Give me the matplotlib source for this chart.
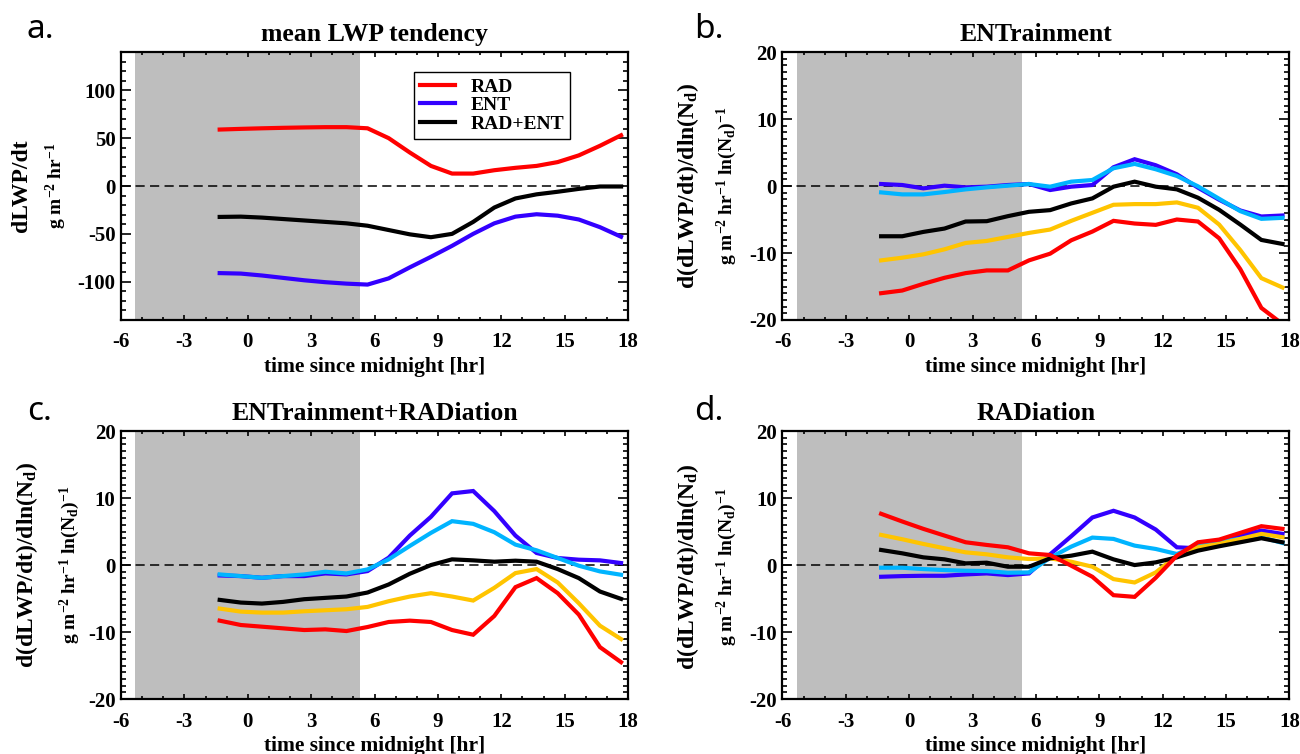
import matplotlib.pyplot as plt
from matplotlib.ticker import MultipleLocator

plt.rcParams['font.family'] = 'Liberation Serif'
plt.rcParams['font.weight'] = 'bold'
plt.rcParams['axes.labelweight'] = 'bold'
plt.rcParams['axes.unicode_minus'] = False
plt.rcParams['mathtext.fontset'] = 'custom'
plt.rcParams['mathtext.rm'] = 'Liberation Serif:bold'
plt.rcParams['mathtext.it'] = 'Liberation Serif:bold'
plt.rcParams['mathtext.bf'] = 'Liberation Serif:bold'

# hours since midnight (model output times)
times = [-1.33, -0.33, 0.67, 1.67, 2.67, 3.67, 4.67, 5.67, 6.67, 7.67,
         8.67, 9.67, 10.67, 11.67, 12.67, 13.67, 14.67, 15.67, 16.67, 17.67]
night = [-5.33, 5.33]

# panel a: mean LWP tendency
rad = [59, 59.7, 60.3, 60.8, 61.2, 61.5, 61.5, 60.3, 50, 35,
       21, 13, 13, 16.5, 19, 21, 25, 32, 42, 53]
ent = [-91, -91.5, -93.5, -96, -98.5, -100.5, -102, -103, -96.5, -85,
       -74, -62.5, -50, -39, -32, -29.5, -31, -35, -43, -53]
rad_ent = [-32.3, -32, -33, -34.5, -36, -37.5, -39, -41.5, -46, -50.5,
           -53.5, -50, -37.5, -22.5, -13, -8.7, -6, -3, -0.5, -0.5]

# panel b: ENTrainment
b_blue = [0.3, 0.15, -0.35, 0.05, -0.2, -0.1, 0.15, 0.3, -0.6, -0.1,
          0.15, 2.8, 4.0, 3.1, 1.75, -0.25, -2.05, -3.65, -4.55, -4.4]
b_cyan = [-0.95, -1.25, -1.25, -0.9, -0.5, -0.2, 0.05, 0.3, -0.1, 0.65,
          0.9, 2.65, 3.3, 2.5, 1.5, -0.05, -1.9, -3.75, -4.9, -4.75]
b_yellow = [-11.1, -10.7, -10.2, -9.45, -8.5, -8.2, -7.6, -7.0, -6.5, -5.2,
            -4.0, -2.8, -2.7, -2.7, -2.45, -3.25, -5.75, -9.55, -13.75, -15.15]
b_black = [-7.5, -7.5, -6.85, -6.35, -5.3, -5.25, -4.5, -3.85, -3.6, -2.6,
           -1.85, -0.1, 0.65, -0.1, -0.5, -1.75, -3.55, -5.75, -8.05, -8.65]
b_red = [-16, -15.6, -14.6, -13.7, -13, -12.6, -12.6, -11.1, -10.1, -8.1,
         -6.8, -5.2, -5.6, -5.8, -5.0, -5.3, -7.8, -12.4, -18.2, -20.6]

# panel c: ENTrainment+RADiation
c_blue = [-1.55, -1.65, -1.9, -1.65, -1.65, -1.25, -1.4, -0.9, 1.1, 4.4,
          7.2, 10.7, 11.05, 8.05, 4.4, 1.8, 1.05, 0.8, 0.7, 0.3]
c_cyan = [-1.4, -1.65, -1.9, -1.65, -1.4, -1.0, -1.25, -0.65, 0.85, 2.85,
          4.8, 6.55, 6.15, 4.9, 3.05, 2.2, 1.05, -0.1, -0.95, -1.45]
c_yellow = [-6.5, -6.95, -7.1, -7.1, -6.9, -6.75, -6.6, -6.25, -5.4, -4.7,
            -4.2, -4.7, -5.3, -3.4, -1.2, -0.6, -2.6, -5.7, -9.05, -11.05]
c_black = [-5.2, -5.6, -5.75, -5.5, -5.1, -4.9, -4.7, -4.1, -2.9, -1.3,
           0, 0.85, 0.7, 0.5, 0.65, 0.5, -0.6, -1.95, -3.95, -5.05]
c_red = [-8.3, -8.95, -9.2, -9.45, -9.7, -9.6, -9.85, -9.25, -8.5, -8.3,
         -8.5, -9.7, -10.4, -7.6, -3.3, -1.95, -4.2, -7.4, -12.25, -14.5]

# panel d: RADiation
d_blue = [-1.75, -1.65, -1.6, -1.6, -1.4, -1.25, -1.5, -1.25, 1.6, 4.3,
          7.1, 8.1, 7.1, 5.3, 2.65, 2.5, 3.5, 4.4, 5.15, 4.65]
d_cyan = [-0.4, -0.4, -0.6, -0.75, -0.85, -0.9, -1.15, -1.1, 1.1, 2.75,
          4.1, 3.9, 2.9, 2.4, 1.65, 2.9, 3.5, 3.9, 4.15, 3.3]
d_yellow = [4.5, 3.85, 3.15, 2.5, 1.9, 1.6, 1.15, 0.9, 1.0, 0.5,
            -0.25, -2.1, -2.6, -1.1, 1.4, 2.65, 3.15, 3.9, 4.65, 4.15]
d_black = [2.25, 1.75, 1.15, 0.85, 0.25, 0.35, -0.25, -0.25, 1.0, 1.4,
           2.0, 0.85, 0, 0.4, 1.15, 2.15, 2.8, 3.4, 4.0, 3.4]
d_red = [7.65, 6.5, 5.4, 4.4, 3.4, 3.0, 2.65, 1.75, 1.5, -0.1,
         -1.75, -4.5, -4.75, -1.9, 1.4, 3.4, 3.8, 4.8, 5.8, 5.4]

RED = '#ff0000'
BLUE = '#3300ff'
CYAN = '#00b4ff'
YELLOW = '#ffc400'
BLACK = '#000000'

fig = plt.figure(figsize=(13, 7.54), dpi=100)

W = 0.39
H = 0.3554
ax_a = fig.add_axes([0.0931, 0.5756, W, H])
ax_b = fig.add_axes([0.6019, 0.5756, W, H])
ax_c = fig.add_axes([0.0931, 0.0729, W, H])
ax_d = fig.add_axes([0.6019, 0.0729, W, H])


def style(ax, title, ylim, ymajor, yminor):
    ax.axvspan(night[0], night[1], color='#bebebe', lw=0, zorder=0)
    ax.axhline(0, color='black', lw=1.1, dashes=(6, 3.5), zorder=1)
    ax.set_xlim(-6, 18)
    ax.set_ylim(*ylim)
    ax.xaxis.set_major_locator(MultipleLocator(3))
    ax.xaxis.set_minor_locator(MultipleLocator(1))
    ax.yaxis.set_major_locator(MultipleLocator(ymajor))
    ax.yaxis.set_minor_locator(MultipleLocator(yminor))
    ax.tick_params(axis='both', which='both', direction='in', top=True, right=True,
                   labelsize=15, width=1.2)
    ax.tick_params(axis='x', which='major', length=3.8, pad=9)
    ax.tick_params(axis='x', which='minor', length=1.9)
    ax.tick_params(axis='y', which='major', length=7.2, pad=4)
    ax.tick_params(axis='y', which='minor', length=3.6)
    for s in ax.spines.values():
        s.set_linewidth(1.6)
    ax.set_title(title, fontsize=18.5, fontweight='bold', pad=8)
    ax.set_xlabel('time since midnight [hr]', fontsize=15.5, fontweight='bold', labelpad=3)


style(ax_a, 'mean LWP tendency', (-140, 140), 50, 10)
ax_a.plot(times, rad, color=RED, lw=3, label='RAD')
ax_a.plot(times, ent, color=BLUE, lw=3, label='ENT')
ax_a.plot(times, rad_ent, color=BLACK, lw=3, label='RAD+ENT')
leg = ax_a.legend(loc='upper left', bbox_to_anchor=(0.578, 0.925), fontsize=14,
                  frameon=True, fancybox=False, edgecolor='black', framealpha=1,
                  handlelength=1.8, handletextpad=0.8, borderpad=0.3, labelspacing=0.05,
                  borderaxespad=0)
leg.get_frame().set_linewidth(1.0)

panels = [
    (ax_b, 'ENTrainment', [b_blue, b_cyan, b_yellow, b_black, b_red]),
    (ax_c, 'ENTrainment+RADiation', [c_blue, c_cyan, c_yellow, c_black, c_red]),
    (ax_d, 'RADiation', [d_blue, d_cyan, d_yellow, d_black, d_red]),
]
for ax, title, series in panels:
    style(ax, title, (-20, 20), 10, 1)
    for vals, col in zip(series, [BLUE, CYAN, YELLOW, BLACK, RED]):
        ax.plot(times, vals, color=col, lw=3, solid_joinstyle='miter')

# y axis titles (two lines, second smaller)
fig.text(0.0169, 0.7533, 'dLWP/dt', rotation=90, ha='center', va='center', fontsize=17)
fig.text(0.0431, 0.7533, r'g m$^{-2}$ hr$^{-1}$', rotation=90, ha='center', va='center',
         fontsize=14)
ylab1 = r'd(dLWP/dt)/dln(N$_{d}$)'
ylab2 = r'g m$^{-2}$ hr$^{-1}$ ln(N$_{d}$)$^{-1}$'
for x1, x2, yc in [(0.5292, 0.5592, 0.7533), (0.0208, 0.0538, 0.2507), (0.5292, 0.5592, 0.2480)]:
    fig.text(x1, yc, ylab1, rotation=90, ha='center', va='center', fontsize=17)
    fig.text(x2, yc, ylab2, rotation=90, ha='center', va='center', fontsize=14)

# panel letters
for x, y, s in [(27, 38, 'a.'), (694, 38, 'b.'), (27, 420, 'c.'), (694, 420, 'd.')]:
    fig.text(x / 1300, 1 - y / 754, s, fontsize=24, fontweight='normal',
             family='Noto Sans', va='baseline', ha='left')

fig.savefig('out.png', dpi=100)
